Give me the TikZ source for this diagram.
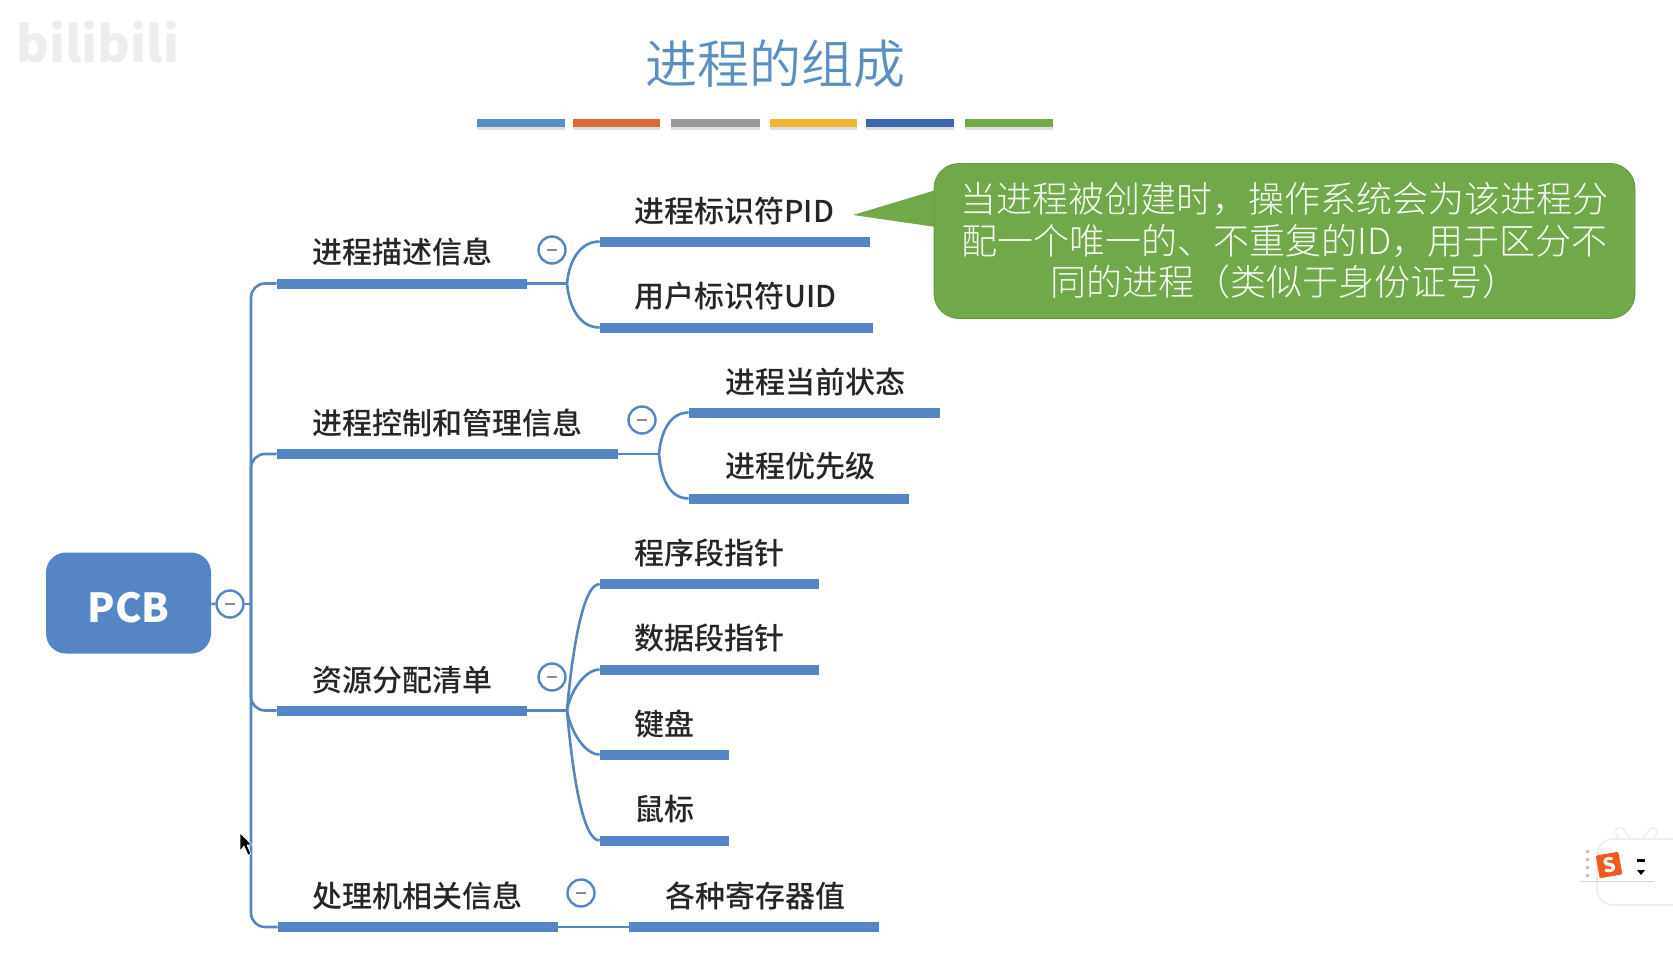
\documentclass[tikz,border=0pt]{standalone}
\usepackage{fontspec}
\setmainfont{Noto Sans CJK SC}
\newfontfamily\lightfont{Noto Sans CJK SC Light}
\newfontfamily\demifont{Noto Sans CJK SC DemiLight}
\newfontfamily\mediumfont{Noto Sans CJK SC Medium}
\usetikzlibrary{shapes,calc,positioning,shadows}
\definecolor{mapblue}{RGB}{86, 133, 197}
\definecolor{titleblue}{RGB}{91, 143, 196}
\definecolor{notegreen}{RGB}{112, 168, 74}
\definecolor{sogouorange}{RGB}{240, 90, 30}
\definecolor{decoorange}{RGB}{217, 107, 58}
\definecolor{decogray}{RGB}{153, 153, 153}
\definecolor{decoyellow}{RGB}{240, 181, 53}
\definecolor{decoblue}{RGB}{63, 103, 174}
\newcommand{\foldmark}{\rule{5pt}{1.3pt}}
\tikzset{
	node distance =1 cm and 1 cm,
	root/.style ={rectangle, rounded corners=10pt, fill=mapblue, text=white, inner sep=0pt, minimum width=82.5pt, minimum height=50.5pt, font=\fontsize{20}{20}\selectfont\bfseries},
	topic/.style ={anchor=west, inner sep=0pt, text=black!85, font=\mediumfont\fontsize{15}{17}\selectfont},
	bar/.style ={rectangle, fill=mapblue, inner sep=0pt, minimum height=5pt},
	fold/.style ={circle, draw=mapblue, fill=white, line width=1.2pt, inner sep=0pt, minimum size=13.5pt, text=black!45},
	link/.style ={draw=mapblue, line width=1.3pt},
	deco/.style ={rectangle, inner sep=0pt, minimum height=4pt, drop shadow={shadow xshift=0pt, shadow yshift=-1.5pt, opacity=.25}},
	note/.style ={rectangle, rounded corners=12.5pt, fill=notegreen, draw=notegreen!90!black, line width=.4pt, minimum width=350.5pt, minimum height=77.5pt, inner sep=0pt, align=center, text=white!95!notegreen, font=\lightfont\fontsize{18}{20.75}\selectfont}
}

\begin{document}
\begin{tikzpicture}[x=0.5pt,y=-0.5pt]
    \useasboundingbox (0,0) rectangle (1673,974);

    % title and colour strip
    \node[text=titleblue, inner sep=0pt, font=\demifont\fontsize{26}{30}\selectfont] (title) at (775,64) {进程的组成};
    \foreach \i/\x/\w/\c in {1/521/44/titleblue, 2/616.5/43.5/decoorange, 3/715.5/44.5/decogray, 4/813.5/43.5/decoyellow, 5/910/44/decoblue, 6/1009/44/notegreen}
        \node[deco, fill=\c, minimum width=\w pt] (deco\i) at (\x,123) {};

    % root
    \node[root] (pcb) at (128.5,603) {\smash{\raisebox{-9.5pt}{PCB}}};
    \node[fold] (pcbfold) at (230,604) {\foldmark};
    \coordinate (trunk) at (251,604);

    % first level
    \node[bar, minimum width=125pt] (desc) at (402,283.5) {};
    \node[topic] (desclabel) at (312,251.5) {进程描述信息};
    \node[bar, minimum width=170.5pt] (ctrl) at (447.5,454) {};
    \node[topic] (ctrllabel) at (312,423) {进程控制和管理信息};
    \node[bar, minimum width=125pt] (res) at (402,710.5) {};
    \node[topic] (reslabel) at (312,680) {资源分配清单};
    \node[bar, minimum width=140pt] (cpu) at (418,927) {};
    \node[topic] (cpulabel) at (312,896) {处理机相关信息};

    % fold marks
    \node[fold] (descfold) at (552,250) {\foldmark};
    \node[fold] (ctrlfold) at (642,420) {\foldmark};
    \node[fold] (resfold) at (552,677) {\foldmark};
    \node[fold] (cpufold) at (581,893) {\foldmark};

    % junctions
    \coordinate (descj) at (567,283.5);
    \coordinate (ctrlj) at (659,454);
    \coordinate (resj) at (567,710.5);

    % second level
    \node[bar, minimum width=135pt] (pid) at (735,241.5) {};
    \node[topic] (pidlabel) at (634,211) {进程标识符PID};
    \node[bar, minimum width=136.5pt] (uid) at (736.5,327.5) {};
    \node[topic] (uidlabel) at (634,296) {用户标识符UID};
    \node[bar, minimum width=125.5pt] (state) at (814.5,412.5) {};
    \node[topic] (statelabel) at (725,382) {进程当前状态};
    \node[bar, minimum width=110pt] (prio) at (799,498.5) {};
    \node[topic] (priolabel) at (725,466.5) {进程优先级};
    \node[bar, minimum width=109.5pt] (code) at (709.5,584) {};
    \node[topic] (codelabel) at (634,553.5) {程序段指针};
    \node[bar, minimum width=109.5pt] (data) at (709.5,669.5) {};
    \node[topic] (datalabel) at (634,638.5) {数据段指针};
    \node[bar, minimum width=64.5pt] (keyb) at (664.5,754.5) {};
    \node[topic] (keyblabel) at (634,724.5) {键盘};
    \node[bar, minimum width=64.5pt] (mouse) at (664.5,840.5) {};
    \node[topic] (mouselabel) at (634,809.5) {鼠标};
    \node[bar, minimum width=125pt] (regs) at (754,927) {};
    \node[topic] (regslabel) at (665,896) {各种寄存器值};

    \path[link] (pcb) edge (pcbfold);
    \path[link] (pcbfold) edge (trunk);
    \draw[link, rounded corners=7pt] (trunk) |- (desc.west);
    \draw[link, rounded corners=7pt] (trunk) |- (ctrl.west);
    \draw[link, rounded corners=7pt] (trunk) |- (res.west);
    \draw[link, rounded corners=7pt] (trunk) |- (cpu.west);

    \draw[link] (desc.east) -- (descj);
    \draw[link] (descj) to[out=85,in=180] (pid.west);
    \draw[link] (descj) to[out=-85,in=180] (uid.west);
    \draw[link] (ctrl.east) -- (ctrlj);
    \draw[link] (ctrlj) to[out=85,in=180] (state.west);
    \draw[link] (ctrlj) to[out=-85,in=180] (prio.west);
    \draw[link] (res.east) -- (resj);
    \draw[link] (resj) to[out=85,in=180,in looseness=.35] (code.west);
    \draw[link] (resj) to[out=80,in=180,in looseness=.7] (data.west);
    \draw[link] (resj) to[out=-80,in=180,in looseness=.7] (keyb.west);
    \draw[link] (resj) to[out=-85,in=180,in looseness=.35] (mouse.west);
    \draw[link] (cpu.east) -- (regs.west);

    % green remark
    \fill[notegreen] (853,215) -- (936,190) -- (936,227) -- cycle;
    \node[note] (remark) at (1284.5,241) {当进程被创建时，操作系统会为该进程分\\配一个唯一的、不重复的ID，用于区分不\\同的进程（类似于身份证号）};

    % watermark, pointer, input widget
    \node[text=black!7, inner sep=0pt, font=\fontsize{25}{25}\selectfont\bfseries] (mark) at (98,42) {bilibili};
    \filldraw[fill=black, draw=white, line width=.3pt] (240,833) -- (240,851) -- (244,846) -- (248,855) -- (251,854) -- (247,845) -- (252,845) -- cycle;
    \draw[black!10, line width=5pt, line cap=round] (1620,832) -- (1627,842) (1653,832) -- (1646,842);
    \draw[white, line width=4pt, line cap=round] (1620,832) -- (1627,842) (1653,832) -- (1646,842);
    \filldraw[fill=white, draw=black!7, line width=.8pt, rounded corners=8pt] (1597,839) rectangle (1690,905);
    \node[fill=sogouorange, rounded corners=1pt, rotate=10, text=white, inner sep=0pt, minimum size=11.5pt, font=\fontsize{10}{10}\selectfont\bfseries] (sogou) at (1609,865) {S};
    \fill[black] (1637,859) rectangle (1645,862);
    \fill[black] (1637,870) -- (1645,870) -- (1641,875) -- cycle;
    \draw[black!25, line width=1.5pt, dash pattern=on 1.5pt off 2.5pt] (1587,850) -- (1587,881);
    \draw[black!15, line width=.5pt] (1579,881) -- (1654,881);
\end{tikzpicture}
\end{document}
